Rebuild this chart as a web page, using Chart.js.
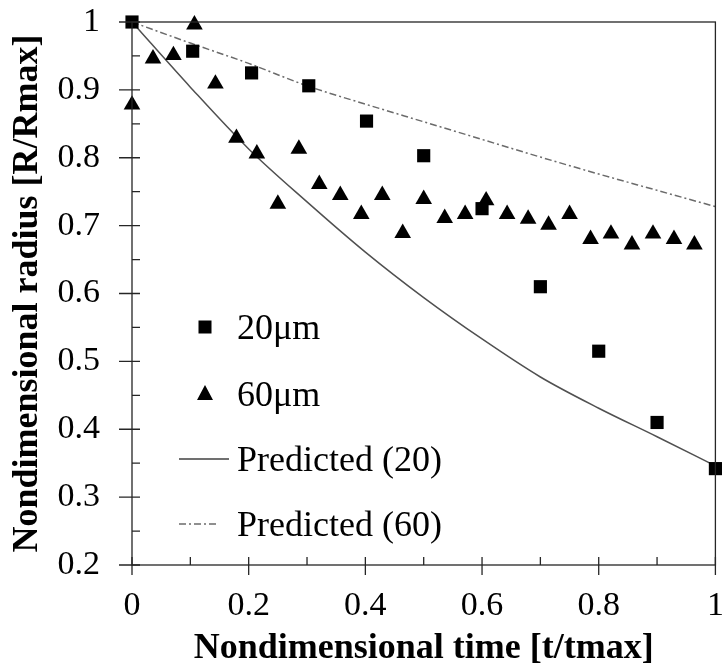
<!DOCTYPE html>
<html>
<head>
<meta charset="utf-8">
<script src="https://cdn.jsdelivr.net/npm/chart.js@4/dist/chart.umd.min.js"></script>
<style>
    html, body { margin: 0; padding: 0; background: #fff; }
    #wrap { width: 725px; height: 672px; }
</style>
</head>
<body>
<div id="wrap"><canvas id="chart-radius" width="725" height="672"></canvas></div>
<script>
// measured points, 20um droplet
var time20 = [0, 0.104, 0.205, 0.303, 0.402, 0.5, 0.6, 0.7, 0.8, 0.9, 1.0];
var radius20 = [1.0, 0.957, 0.925, 0.906, 0.854, 0.803, 0.725, 0.61, 0.515, 0.41, 0.342];

// measured points, 60um droplet
var time60 = [0, 0.036, 0.071, 0.107, 0.143, 0.179, 0.214, 0.25, 0.286, 0.321, 0.357, 0.393, 0.429, 0.464,
    0.5, 0.536, 0.571, 0.607, 0.643, 0.679, 0.714, 0.75, 0.786, 0.821, 0.857, 0.893, 0.929, 0.964];
var radius60 = [0.878, 0.946, 0.951, 0.996, 0.909, 0.829, 0.806, 0.732, 0.813, 0.761, 0.745, 0.717, 0.745, 0.689,
    0.739, 0.711, 0.717, 0.737, 0.717, 0.710, 0.701, 0.717, 0.680, 0.688, 0.672, 0.688, 0.680, 0.672];

// model curves
var predTime = [0, 0.1, 0.2, 0.3, 0.4, 0.5, 0.6, 0.7, 0.8, 0.9, 1.0];
var pred20 = [1.0, 0.904, 0.813, 0.735, 0.661, 0.594, 0.533, 0.477, 0.431, 0.389, 0.346];
var pred60 = [1.0, 0.969, 0.939, 0.906, 0.879, 0.853, 0.827, 0.801, 0.776, 0.752, 0.728];

var xTicks = [0, 0.2, 0.4, 0.6, 0.8, 1];
var yTicks = [0.2, 0.3, 0.4, 0.5, 0.6, 0.7, 0.8, 0.9, 1];
var legendLabels = ['20\u03bcm', '60\u03bcm', 'Predicted (20)', 'Predicted (60)'];

var serif = "'Liberation Serif', 'Times New Roman', serif";

function pairs(xs, ys) {
    return xs.map(function(x, i) { return {x: x, y: ys[i]}; });
}

// "1" not "1.0", "0" not "0.0"
function shortLabel(v) {
    return String(+Number(v).toFixed(1));
}

// frame + tick marks (major cross the axis, minor point inward)
var frameTicks = {
    id: 'frameTicks',
    afterDatasetsDraw: function(chart) {
        let ctx = chart.ctx;
        let a = chart.chartArea;
        let xs = chart.scales.x, ys = chart.scales.y;
        ctx.save();
        ctx.strokeStyle = '#262626';
        ctx.lineWidth = 1.3;
        ctx.strokeRect(a.left, a.top, a.right - a.left, a.bottom - a.top);
        ctx.beginPath();
        for (let v = 0; v <= 10; v++) {
            let px = xs.getPixelForValue(v / 10);
            let major = v % 2 === 0;
            ctx.moveTo(px, a.bottom - 8);
            ctx.lineTo(px, major ? a.bottom + 10 : a.bottom);
        }
        for (let v = 4; v <= 20; v++) {
            let py = ys.getPixelForValue(v / 20);
            let major = v % 2 === 0;
            ctx.moveTo(major ? a.left - 13 : a.left, py);
            ctx.lineTo(a.left + 8, py);
        }
        ctx.stroke();
        ctx.restore();
    }
};

// legend inside the plot, lower left
var innerLegend = {
    id: 'innerLegend',
    afterDraw: function(chart) {
        let ctx = chart.ctx;
        let mx = 205, tx = 237;
        let rows = [327, 394, 459, 524];
        ctx.save();
        ctx.fillStyle = '#000';
        ctx.font = '36px ' + serif;
        ctx.textBaseline = 'alphabetic';
        rows.forEach(function(y, i) {
            ctx.fillText(legendLabels[i], tx, y + 12);
        });
        // square
        ctx.fillRect(mx - 6.5, rows[0] - 6.5, 13, 13);
        // triangle
        ctx.beginPath();
        ctx.moveTo(mx, rows[1] - 9);
        ctx.lineTo(mx + 8, rows[1] + 6);
        ctx.lineTo(mx - 8, rows[1] + 6);
        ctx.closePath();
        ctx.fill();
        // solid line
        ctx.strokeStyle = '#404040';
        ctx.lineWidth = 1.5;
        ctx.beginPath();
        ctx.moveTo(179, rows[2]);
        ctx.lineTo(229, rows[2]);
        ctx.stroke();
        // dash dot
        ctx.strokeStyle = '#6b6b6b';
        ctx.setLineDash([7, 3, 2, 3]);
        ctx.beginPath();
        ctx.moveTo(179, rows[3]);
        ctx.lineTo(217, rows[3]);
        ctx.stroke();
        ctx.restore();
    }
};

var ctx = document.getElementById('chart-radius').getContext('2d');

var chart = new Chart(ctx, {
    type: 'scatter',
    data: {
        datasets: [{
            label: legendLabels[0],
            data: pairs(time20, radius20),
            pointStyle: 'rect',
            pointRadius: 9.3,
            pointBackgroundColor: '#000',
            pointBorderWidth: 0,
            showLine: false,
            clip: false,
            order: 1
        },
        {
            label: legendLabels[1],
            data: pairs(time60, radius60),
            pointStyle: 'triangle',
            pointRadius: 9.6,
            pointBackgroundColor: '#000',
            pointBorderWidth: 0,
            showLine: false,
            clip: false,
            order: 2
        },
        {
            label: legendLabels[2],
            data: pairs(predTime, pred20),
            showLine: true,
            pointRadius: 0,
            borderColor: '#505050',
            borderWidth: 1.5,
            cubicInterpolationMode: 'monotone',
            clip: false,
            order: 3
        },
        {
            label: legendLabels[3],
            data: pairs(predTime, pred60),
            showLine: true,
            pointRadius: 0,
            borderColor: '#6b6b6b',
            borderWidth: 1.5,
            borderDash: [7, 3, 2, 3],
            cubicInterpolationMode: 'monotone',
            clip: false,
            order: 4
        }]
    },
    options: {
        responsive: false,
        animation: false,
        events: [],
        layout: {
            padding: {left: 0, top: 22, right: 8, bottom: 0}
        },
        plugins: {
            legend: {display: false},
            tooltip: {enabled: false}
        },
        scales: {
            x: {
                type: 'linear',
                min: 0,
                max: 1,
                afterBuildTicks: function(scale) {
                    scale.ticks = xTicks.map(function(v) { return {value: v}; });
                },
                afterFit: function(scale) {
                    scale.height = 107;
                    scale.paddingLeft = 0;
                    scale.paddingRight = 0;
                },
                grid: {display: false, drawTicks: false},
                border: {display: false},
                ticks: {
                    color: '#000',
                    padding: 21,
                    maxRotation: 0,
                    callback: shortLabel,
                    font: {family: serif, size: 34}
                },
                title: {
                    display: true,
                    text: 'Nondimensional time [t/tmax]',
                    color: '#000',
                    padding: {top: 0, bottom: 2},
                    font: {family: serif, size: 36, weight: 'bold'}
                }
            },
            y: {
                type: 'linear',
                min: 0.2,
                max: 1,
                afterBuildTicks: function(scale) {
                    scale.ticks = yTicks.map(function(v) { return {value: v}; });
                },
                afterFit: function(scale) {
                    scale.width = 132;
                    scale.paddingTop = 0;
                    scale.paddingBottom = 0;
                },
                grid: {display: false, drawTicks: false},
                border: {display: false},
                ticks: {
                    color: '#000',
                    padding: 32,
                    callback: shortLabel,
                    font: {family: serif, size: 34}
                },
                title: {
                    display: true,
                    text: 'Nondimensional radius [R/Rmax]',
                    color: '#000',
                    padding: {top: 6, bottom: 0},
                    font: {family: serif, size: 36, weight: 'bold'}
                }
            }
        }
    },
    plugins: [frameTicks, innerLegend]
});
</script>
</body>
</html>
